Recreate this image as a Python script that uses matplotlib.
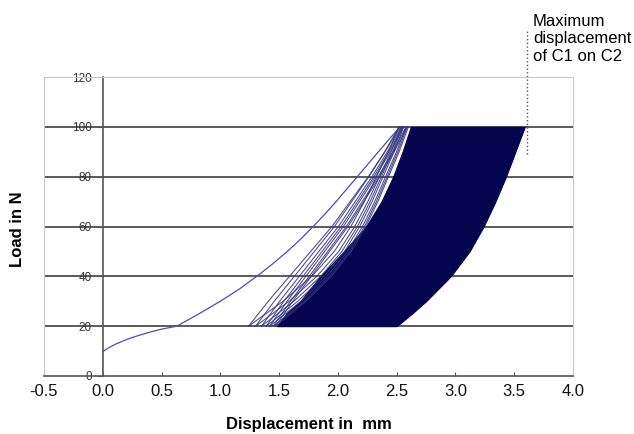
import matplotlib
matplotlib.use('Agg')
import matplotlib.pyplot as plt

plt.rcParams['font.family'] = ['Liberation Sans', 'DejaVu Sans']

# first loading curve (displacement mm, load N)
first_x = [0.0, 0.05, 0.10, 0.20, 0.30, 0.40, 0.50, 0.63, 0.82, 1.00, 1.165, 1.31,
           1.445, 1.57, 1.685, 1.79, 1.89, 1.985, 2.075, 2.165, 2.255, 2.345, 2.435, 2.53]
first_load = [9.8, 11.3, 12.6, 14.6, 16.2, 17.6, 18.8, 20, 25, 30, 35, 40,
              45, 50, 55, 60, 65, 70, 75, 80, 85, 90, 95, 100]

# shape of loading / unloading branches between 20 N and 100 N
load_pts = [20, 30, 40, 50, 60, 70, 80, 90, 100]
load_frac = [0, 0.23, 0.42, 0.57, 0.68, 0.77, 0.85, 0.93, 1.0]
unload_frac = [0, 0.13, 0.27, 0.41, 0.55, 0.67, 0.79, 0.90, 1.0]

# early cycles that are still visible as single lines
cycle_min = [1.24, 1.30, 1.35, 1.39, 1.42, 1.45, 1.47]
cycle_max = [2.53, 2.52, 2.54, 2.55, 2.56, 2.58, 2.59, 2.60]

# envelope of the dense band of later cycles
band_load = [20, 25, 30, 40, 50, 60, 70, 80, 90, 100]
band_left = [1.48, 1.56, 1.68, 1.85, 2.05, 2.24, 2.37, 2.47, 2.55, 2.62]
band_right = [2.50, 2.63, 2.75, 2.96, 3.12, 3.24, 3.34, 3.43, 3.51, 3.59]

max_disp = 3.61
xticks = [-0.5, 0.0, 0.5, 1.0, 1.5, 2.0, 2.5, 3.0, 3.5, 4.0]
yticks = [0, 20, 40, 60, 80, 100, 120]

fig = plt.figure(figsize=(6.34, 4.34), dpi=100)
ax = fig.add_axes([44/634, 1-376/434, (573-44)/634, (376-77)/434])
ax.set_xlim(-0.5, 4.0)
ax.set_ylim(0, 120)

# gridlines
for v in yticks[1:-1]:
    ax.axhline(v, color='#4d4d4d', lw=1.3, zorder=1)

line_col = '#34347e'
ax.plot(first_x, first_load, color='#5050a0', lw=0.9, zorder=3)
for i in range(len(cycle_min)):
    xu = [cycle_min[i] + (cycle_max[i] - cycle_min[i]) * f for f in unload_frac]
    ax.plot(xu, load_pts, color=line_col, lw=0.8, alpha=0.85, zorder=3)
    xl = [cycle_min[i] + (cycle_max[i + 1] - cycle_min[i]) * f for f in load_frac]
    ax.plot(xl, load_pts, color=line_col, lw=0.8, alpha=0.85, zorder=3)

ax.fill_betweenx(band_load, band_left, band_right, color='#04044f', lw=0.8,
                 edgecolor='#04044f', zorder=2)

# frame / axes lines
for s in ['top', 'right']:
    ax.spines[s].set_color('#c8c8c8')
    ax.spines[s].set_linewidth(0.8)
ax.axvline(-0.5, color='#c8c8c8', lw=0.8)
ax.spines['left'].set_position(('data', 0))
ax.spines['left'].set_color('#555555')
ax.spines['left'].set_linewidth(1.2)
ax.spines['bottom'].set_color('#555555')
ax.spines['bottom'].set_linewidth(1.2)

ax.set_yticks(yticks)
ax.tick_params(axis='y', direction='out', length=4, labelsize=8.5,
               labelcolor='#333333', color='#555555', pad=4)
ax.set_xticks(xticks)
ax.set_xticklabels(['%.1f' % v for v in xticks])
ax.tick_params(axis='x', direction='in', length=3, labelsize=12,
               labelcolor='#111111', color='#555555', pad=6)

ax.set_xlabel('Displacement in  mm', fontsize=12, fontweight='bold', labelpad=13)
fig.text(18/634, 1-229/434, 'Load in N', rotation=90, ha='center', va='center',
         fontsize=12, fontweight='bold')

# maximum displacement marker
ax.plot([max_disp, max_disp], [89, 139], ls=':', color='#555555', lw=1, clip_on=False)
fig.text(533/634, 1-14/434, 'Maximum\ndisplacement\nof C1 on C2', fontsize=12,
         ha='left', va='top', linespacing=1.2)

plt.savefig('out.png', dpi=100)
